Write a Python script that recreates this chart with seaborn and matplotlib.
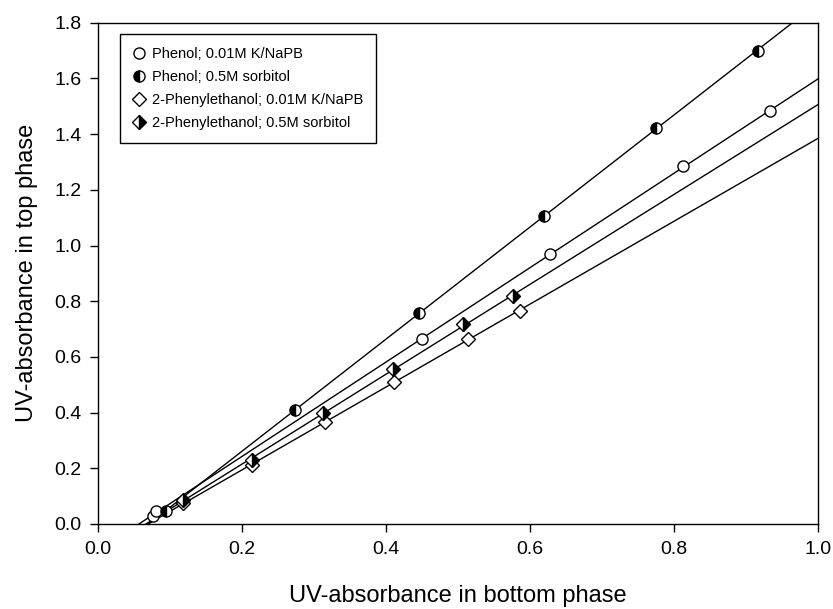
import numpy as np
import pandas as pd
import matplotlib
matplotlib.use("Agg")
import matplotlib.pyplot as plt
import seaborn as sns

# values
phenol_buf_x = [0.076, 0.080, 0.450, 0.628, 0.813, 0.933]
phenol_buf_y = [0.029, 0.045, 0.663, 0.970, 1.284, 1.483]

phenol_sorb_x = [0.094, 0.274, 0.445, 0.619, 0.775, 0.916]
phenol_sorb_y = [0.048, 0.409, 0.756, 1.107, 1.422, 1.698]

pea_buf_x = [0.118, 0.214, 0.315, 0.411, 0.513, 0.586]
pea_buf_y = [0.074, 0.213, 0.365, 0.511, 0.663, 0.766]

pea_sorb_x = [0.117, 0.213, 0.312, 0.410, 0.507, 0.576]
pea_sorb_y = [0.087, 0.228, 0.397, 0.555, 0.717, 0.818]

labels = [
    "Phenol; 0.01M K/NaPB",
    "Phenol; 0.5M sorbitol",
    "2-Phenylethanol; 0.01M K/NaPB",
    "2-Phenylethanol; 0.5M sorbitol",
]

x_ticks = [0.0, 0.2, 0.4, 0.6, 0.8, 1.0]
y_ticks = [0.0, 0.2, 0.4, 0.6, 0.8, 1.0, 1.2, 1.4, 1.6, 1.8]

sns.set_theme(style="ticks")
plt.rcParams["font.family"] = ["Liberation Sans", "DejaVu Sans"]

fig, ax = plt.subplots(figsize=(8.33, 6.09), dpi=100)
fig.subplots_adjust(left=0.118, right=0.982, bottom=0.1396, top=0.9627)

ax.set_xlim(0, 1.0)
ax.set_ylim(0, 1.8)

# (x, y, marker, fillstyle, main face colour)
series = [
    (phenol_buf_x, phenol_buf_y, "o", "full", "white"),
    (phenol_sorb_x, phenol_sorb_y, "o", "left", "black"),
    (pea_buf_x, pea_buf_y, "D", "full", "white"),
    (pea_sorb_x, pea_sorb_y, "D", "right", "black"),
]

# regression lines first, so markers sit on top
for xs, ys, *_ in series:
    df = pd.DataFrame({"x": xs, "y": ys})
    sns.regplot(data=df, x="x", y="y", ax=ax, scatter=False, ci=None,
                truncate=False, line_kws=dict(color="black", lw=1.0))

for (xs, ys, mk, fs, fc), lab in zip(series, labels):
    df = pd.DataFrame({"x": xs, "y": ys})
    sns.lineplot(data=df, x="x", y="y", ax=ax, errorbar=None,
                 linestyle="", marker=mk, markersize=8 if mk == "o" else 7.2,
                 fillstyle=fs, markerfacecolor=fc, markerfacecoloralt="white",
                 markeredgecolor="black", markeredgewidth=1.0,
                 color="black", label=lab, zorder=3)

ax.set_xticks(x_ticks)
ax.set_yticks(y_ticks)
ax.set_xticklabels([f"{t:.1f}" for t in x_ticks])
ax.set_yticklabels([f"{t:.1f}" for t in y_ticks])
ax.tick_params(direction="out", length=6, width=1, labelsize=14,
               color="black", labelcolor="black", pad=6)

for s in ax.spines.values():
    s.set_visible(True)
    s.set_color("black")
    s.set_linewidth(1.0)

ax.set_xlabel("UV-absorbance in bottom phase", fontsize=17, labelpad=20,
              color="black")
ax.set_ylabel("UV-absorbance in top phase", fontsize=17, labelpad=12,
              color="black")

leg = ax.legend(loc="upper left", bbox_to_anchor=(0.03, 0.977),
                borderaxespad=0, fancybox=False, frameon=True,
                edgecolor="black", fontsize=10.5, handlelength=0.8,
                handletextpad=0.5, labelspacing=0.6, borderpad=0.9)
leg.get_frame().set_linewidth(1.0)
leg.get_frame().set_alpha(1)
for t in leg.get_texts():
    t.set_color("black")

fig.savefig("out.png", dpi=100)
